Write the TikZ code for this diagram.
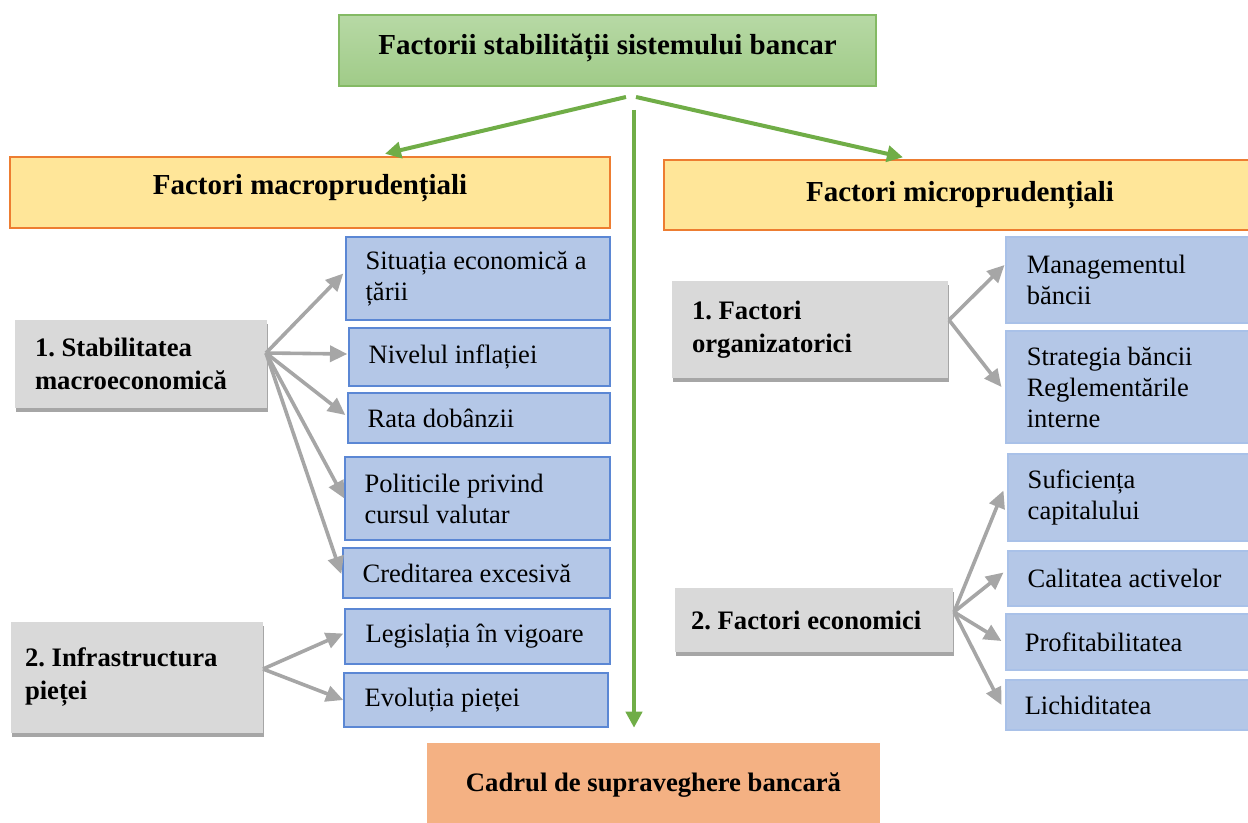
\documentclass[tikz,border=0pt]{standalone}
\usepackage{fontspec}
\setmainfont{Liberation Serif}
\frenchspacing
\usetikzlibrary{arrows.meta,shadows,calc}
\definecolor{gtop}{HTML}{B7D9A5}
\definecolor{gbot}{HTML}{A0CB88}
\definecolor{gborder}{HTML}{84BA64}
\definecolor{yel}{HTML}{FFE699}
\definecolor{orb}{HTML}{ED7D31}
\definecolor{blu}{HTML}{B4C7E7}
\definecolor{bluborder}{HTML}{5B87D4}
\definecolor{blulight}{HTML}{A9C1E8}
\definecolor{gry}{HTML}{D9D9D9}
\definecolor{org}{HTML}{F4B183}
\definecolor{arrgray}{HTML}{A6A6A6}
\definecolor{arrgreen}{HTML}{70AD47}
% box with left-aligned text: name, boxstyle, textstyle, x1,y1,x2,y2, inset, text
\newcommand\mkbox[9]{%
 \pgfmathsetmacro\mkw{(#6-#4)*0.75}%
 \pgfmathsetmacro\mkh{(#7-#5)*0.75}%
 \node[#2, minimum width=\mkw pt, minimum height=\mkh pt, inner sep=0pt] (#1) at ({(#4+#6)/2},{(#5+#7)/2}) {};
 \node[#3, anchor=west, align=left, inner sep=0pt] (#1-t) at ($(#1.west)+(#8,0)$) {#9};}
% box with centred text: name, boxstyle, textstyle, x1,y1,x2,y2, yshift, text
\newcommand\mkcbox[9]{%
 \pgfmathsetmacro\mkw{(#6-#4)*0.75}%
 \pgfmathsetmacro\mkh{(#7-#5)*0.75}%
 \node[#2, minimum width=\mkw pt, minimum height=\mkh pt, inner sep=0pt] (#1) at ({(#4+#6)/2},{(#5+#7)/2}) {};
 \node[#3, anchor=center, align=center, inner sep=0pt] (#1-t) at ($(#1.center)+(0,#8)$) {#9};}
\tikzset{
 bigtext/.style={font=\fontsize{21.75pt}{24pt}\selectfont\bfseries},
 leaftext/.style={font=\fontsize{19.9pt}{23.25pt}\selectfont},
 grptext/.style={font=\fontsize{20pt}{24.75pt}\selectfont\bfseries},
 suptext/.style={font=\fontsize{20pt}{24pt}\selectfont\bfseries},
 titlebox/.style={draw=gborder, line width=1.2pt, top color=gtop, bottom color=gbot},
 headL/.style={draw=orb, fill=yel, line width=1.8pt},
 headR/.style={draw=orb, fill=yel, line width=1pt},
 leafL/.style={draw=bluborder, fill=blu, line width=1pt},
 leafR/.style={draw=blulight, fill=blu, line width=0.8pt},
 grp/.style={fill=gry, drop shadow={shadow xshift=1pt, shadow yshift=-3pt, fill=black, opacity=0.35}},
 sup/.style={fill=org, drop shadow={shadow xshift=0pt, shadow yshift=-2pt, fill=black, opacity=0.15}},
 garr/.style={draw=arrgray, line width=2.7pt, -{Triangle[length=13pt,width=12pt]}},
 gnarr/.style={draw=arrgreen, line width=3pt, -{Triangle[length=12pt,width=12pt]}},
}
\begin{document}
\begin{tikzpicture}[x=0.75pt,y=-0.75pt]
\useasboundingbox (0,0) rectangle (1248,823);
% title
\mkcbox{title}{titlebox}{bigtext}{339}{15}{876}{86}{-3}{Factorii stabilității sistemului bancar}
% headers
\mkcbox{macro}{headL}{bigtext}{10}{157}{610}{228}{-4}{Factori macroprudențiali}
\mkcbox{micro}{headR}{bigtext}{664}{160}{1256}{230}{0}{Factori microprudențiali}
% left leaves
\mkbox{sit}{leafL}{leaftext}{346}{237}{610}{320}{20}{Situația economică a\\țării}
\mkbox{niv}{leafL}{leaftext}{349}{328}{610}{386}{20}{Nivelul inflației}
\mkbox{rata}{leafL}{leaftext}{348}{393}{610}{443}{20}{Rata dobânzii}
\mkbox{pol}{leafL}{leaftext}{345}{457}{610}{540}{20}{Politicile privind\\cursul valutar}
\mkbox{cred}{leafL}{leaftext}{343}{548}{610}{598}{20}{Creditarea excesivă}
\mkbox{leg}{leafL}{leaftext}{345}{609}{610}{664}{21}{Legislația în vigoare}
\mkbox{evo}{leafL}{leaftext}{344}{673}{608}{727}{21}{Evoluția pieței}
% right leaves
\mkbox{mgmt}{leafR}{leaftext}{1006}{237}{1256}{323}{21}{Managementul\\băncii}
\mkbox{strat}{leafR}{leaftext}{1006}{331}{1256}{443}{21}{Strategia băncii\\Reglementările\\interne}
\mkbox{suf}{leafR}{leaftext}{1008}{454}{1256}{541}{20}{Suficiența\\capitalului}
\mkbox{cal}{leafR}{leaftext}{1008}{551}{1256}{606}{20}{Calitatea activelor}
\mkbox{prof}{leafR}{leaftext}{1006}{614}{1256}{670}{19}{Profitabilitatea}
\mkbox{lich}{leafR}{leaftext}{1006}{680}{1256}{730}{19}{Lichiditatea}
% group boxes
\mkbox{stab}{grp}{grptext}{15}{320}{267}{408}{20}{1. Stabilitatea\\macroeconomică}
\mkbox{infra}{grp}{grptext}{11}{622}{263}{733}{14}{2. Infrastructura\\pieței}
\mkbox{org}{grp}{grptext}{672}{281}{948}{378}{20}{1. Factori\\organizatorici}
\mkbox{eco}{grp}{grptext}{675}{588}{953}{652}{16}{2. Factori economici}
% bottom
\mkcbox{cadru}{sup}{suptext}{427}{743}{880}{827}{0}{Cadrul de supraveghere bancară}
% green arrows
\coordinate (gs1) at (626,97);
\coordinate (gs2) at (636,97);
\coordinate (gs3) at (634,110);
\draw[gnarr] (gs1) -- ($(macro.north)+(75,-2)$);
\draw[gnarr] (gs2) -- ($(micro.north)+(-57,-2)$);
\draw[gnarr] (gs3) -- ($(gs3 |- cadru.north)+(0,-15)$);
% gray arrows left
\coordinate (s1) at (266,353);
\draw[garr] (s1) -- ($(sit.west)+(-2,-5)$);
\draw[garr] (s1) -- ($(niv.west)+(-1,-3)$);
\draw[garr] (s1) -- ($(rata.west)+(-2,-3)$);
\draw[garr] (s1) -- ($(pol.west)+(0,0)$);
\draw[garr] (s1) -- ($(cred.west)+(-1,1)$);
\coordinate (s2) at (263,669);
\draw[garr] (s2) -- ($(leg.west)+(-1,-3)$);
\draw[garr] (s2) -- ($(evo.west)+(0,0)$);
% gray arrows right
\coordinate (s3) at (949,320);
\draw[garr] (s3) -- ($(mgmt.west)+(-1,-15)$);
\draw[garr] (s3) -- ($(strat.west)+(-4,0)$);
\coordinate (s4) at (954,612);
\draw[garr] (s4) -- ($(suf.west)+(-4,-7)$);
\draw[garr] (s4) -- ($(cal.west)+(-4,-6)$);
\draw[garr] (s4) -- ($(prof.west)+(-4,-1)$);
\draw[garr] (s4) -- ($(lich.west)+(-4,0)$);
\end{tikzpicture}
\end{document}
